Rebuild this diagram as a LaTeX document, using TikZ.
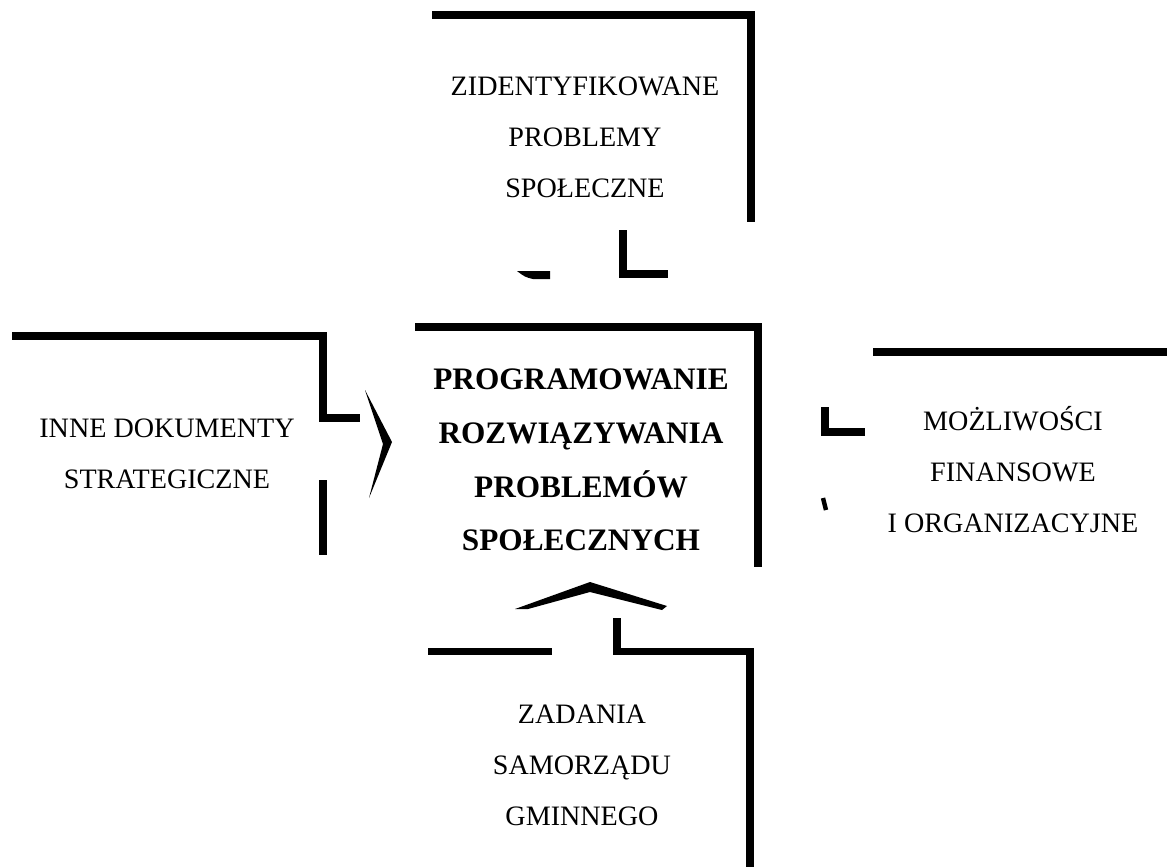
\documentclass[tikz,border=0pt]{standalone}
\usepackage{fontspec}
\setmainfont{Liberation Serif}

\tikzset{
  ramka/.style={line width=4pt},
  opis/.style={align=center, font=\fontsize{16}{29}\selectfont},
  glowny/.style={align=center, font=\bfseries\fontsize{17.8}{30.5}\selectfont},
}

\begin{document}
\begin{tikzpicture}[x=0.02cm,y=-0.02cm]
  \useasboundingbox (0,0) rectangle (1167,867);

  % Blok centralny
  \node[glowny] (prog) at (581,460) {PROGRAMOWANIE\\ROZWIĄZYWANIA\\PROBLEMÓW\\SPOŁECZNYCH};
  \draw[ramka] (415,327) -- (758,327) -- (758,567);

  % Blok gorny
  \node[opis] (ziden) at (585,137) {ZIDENTYFIKOWANE\\PROBLEMY\\SPOŁECZNE};
  \draw[ramka] (432,15) -- (751,15) -- (751,222);
  \fill (517,271) -- (550,271) -- (550,279) -- (533,279) .. controls (525,277) .. cycle;
  \draw[ramka] (623,230) -- (623,274) -- (668,274);

  % Blok lewy
  \node[opis] (inne) at (167,454) {INNE DOKUMENTY\\STRATEGICZNE};
  \draw[ramka] (12,336) -- (323,336) -- (323,418) -- (360,418);
  \draw[ramka] (323,480) -- (323,555);
  \fill (365,390) -- (392,442) -- (369,498) -- (383,444) -- cycle;

  % Blok prawy
  \node[opis] (mozl) at (1013,470) {MOŻLIWOŚCI\\FINANSOWE\\I ORGANIZACYJNE};
  \draw[ramka] (873,352) -- (1167,352);
  \draw[ramka] (825,407) -- (825,432) -- (865,432);
  \draw[line width=2.5pt] (823,498) -- (826,510);

  % Blok dolny
  \node[opis] (zad) at (582,765) {ZADANIA\\SAMORZĄDU\\GMINNEGO};
  \fill (515,609) -- (590,582) -- (667,606) -- (662,610) -- (590,592) -- (528,609) -- cycle;
  \draw[ramka] (428,651) -- (552,651);
  \draw[ramka] (617,618) -- (617,651) -- (750,651) -- (750,867);
\end{tikzpicture}
\end{document}
